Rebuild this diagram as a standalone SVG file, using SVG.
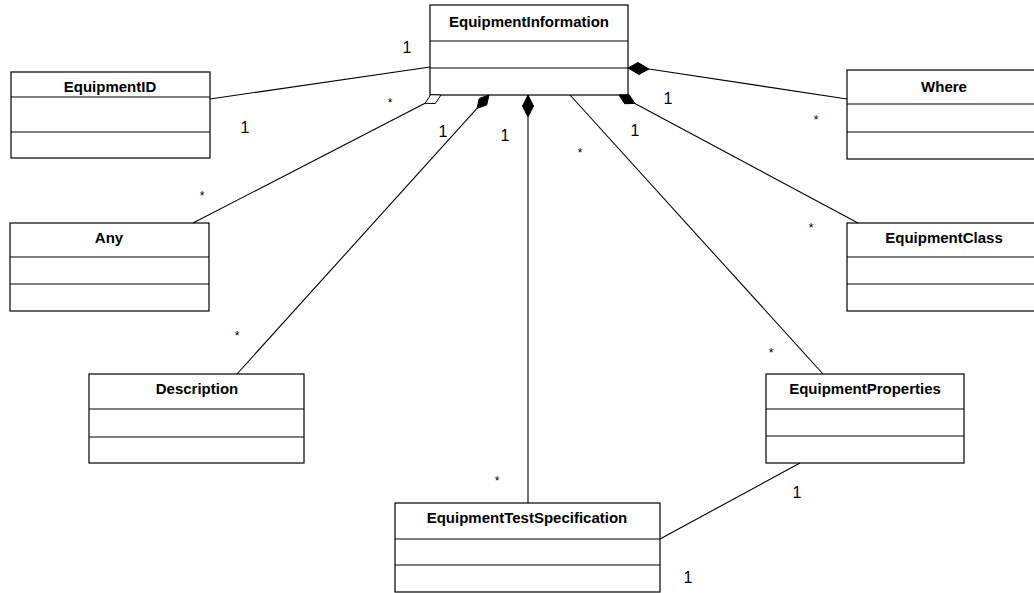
<svg xmlns="http://www.w3.org/2000/svg" width="1034" height="593" viewBox="0 0 1034 593">
<style>
.box{fill:#fff;stroke:#000;stroke-width:1.2}
.div{stroke:#000;stroke-width:1.2}
.title{font-family:"Liberation Sans",Arial,sans-serif;font-weight:bold;font-size:15px;text-anchor:middle;fill:#000}
.lbl{font-family:"Liberation Sans",Arial,sans-serif;font-size:16px;text-anchor:middle;fill:#000}
.ast{font-family:"Liberation Sans",Arial,sans-serif;font-size:12px;text-anchor:middle;fill:#000}
.conn line{stroke:#000;stroke-width:1.1}
.fd{fill:#000;stroke:#000;stroke-width:1}
.od{fill:#fff;stroke:#000;stroke-width:1}
</style>
<rect width="1034" height="593" fill="#fff"/>
<g id="EquipmentInformation">
<rect class="box" x="430" y="5" width="198" height="90"/>
<line class="div" x1="430" y1="41" x2="628" y2="41"/>
<line class="div" x1="430" y1="68" x2="628" y2="68"/>
<text class="title" x="529" y="27">EquipmentInformation</text>
</g>
<g id="EquipmentID">
<rect class="box" x="11" y="72" width="199" height="86"/>
<line class="div" x1="11" y1="97" x2="210" y2="97"/>
<line class="div" x1="11" y1="132" x2="210" y2="132"/>
<text class="title" x="110" y="92">EquipmentID</text>
</g>
<g id="Where">
<rect class="box" x="847" y="70" width="195" height="89"/>
<line class="div" x1="847" y1="104" x2="1042" y2="104"/>
<line class="div" x1="847" y1="132" x2="1042" y2="132"/>
<text class="title" x="944" y="92">Where</text>
</g>
<g id="Any">
<rect class="box" x="10" y="223" width="199" height="88"/>
<line class="div" x1="10" y1="257" x2="209" y2="257"/>
<line class="div" x1="10" y1="284" x2="209" y2="284"/>
<text class="title" x="109" y="243">Any</text>
</g>
<g id="EquipmentClass">
<rect class="box" x="847" y="223" width="195" height="88"/>
<line class="div" x1="847" y1="257" x2="1042" y2="257"/>
<line class="div" x1="847" y1="284" x2="1042" y2="284"/>
<text class="title" x="944" y="243">EquipmentClass</text>
</g>
<g id="Description">
<rect class="box" x="89" y="374" width="215" height="89"/>
<line class="div" x1="89" y1="409" x2="304" y2="409"/>
<line class="div" x1="89" y1="437" x2="304" y2="437"/>
<text class="title" x="197" y="394">Description</text>
</g>
<g id="EquipmentProperties">
<rect class="box" x="766" y="374" width="198" height="89"/>
<line class="div" x1="766" y1="409" x2="964" y2="409"/>
<line class="div" x1="766" y1="436" x2="964" y2="436"/>
<text class="title" x="865" y="394">EquipmentProperties</text>
</g>
<g id="EquipmentTestSpecification">
<rect class="box" x="395" y="503" width="265" height="89"/>
<line class="div" x1="395" y1="539" x2="660" y2="539"/>
<line class="div" x1="395" y1="565" x2="660" y2="565"/>
<text class="title" x="527" y="523">EquipmentTestSpecification</text>
</g>
<g id="connectors" class="conn">
<line x1="210" y1="99" x2="430" y2="67"/>
<line x1="193" y1="223" x2="425" y2="103.3"/>
<polygon class="od" points="441,95 435.3,103.5 425,103.3 430.7,94.7"/>
<line x1="237" y1="374" x2="477" y2="108.4"/>
<polygon class="fd" points="489,95 486.7,105 477,108.4 479.3,98.4"/>
<line x1="528" y1="503" x2="528" y2="117"/>
<polygon class="fd" points="528,95 533.5,106 528,117 522.5,106"/>
<line x1="823" y1="374" x2="570" y2="95"/>
<line x1="858" y1="223" x2="634.9" y2="103.5"/>
<polygon class="fd" points="619,95 629.3,94.9 634.9,103.5 624.6,103.7"/>
<line x1="847" y1="99" x2="649" y2="69"/>
<polygon class="fd" points="628,68 638,62.5 649,69 639,74.5"/>
<line x1="660" y1="539" x2="800" y2="463"/>
</g>
<g id="labels">
<text class="lbl" x="407" y="53">1</text>
<text class="lbl" x="245" y="133">1</text>
<text class="ast" x="390" y="107">*</text>
<text class="ast" x="202" y="200">*</text>
<text class="lbl" x="443" y="137">1</text>
<text class="ast" x="237" y="340">*</text>
<text class="lbl" x="505" y="141">1</text>
<text class="ast" x="497" y="485">*</text>
<text class="ast" x="580" y="157">*</text>
<text class="ast" x="771" y="357">*</text>
<text class="lbl" x="668" y="104">1</text>
<text class="ast" x="816" y="124">*</text>
<text class="lbl" x="635" y="136">1</text>
<text class="ast" x="811" y="232">*</text>
<text class="lbl" x="797" y="498">1</text>
<text class="lbl" x="688" y="583">1</text>
</g>
</svg>
